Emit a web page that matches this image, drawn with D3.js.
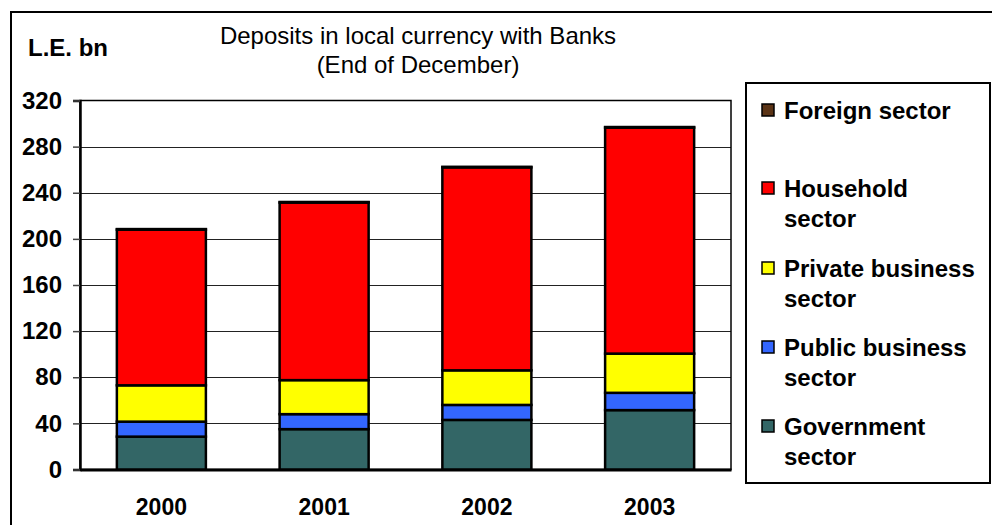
<!DOCTYPE html>
<html>
<head>
<meta charset="utf-8">
<script src="https://cdn.jsdelivr.net/npm/d3@7"></script>
<style>
  html, body { margin: 0; padding: 0; background: #fff; }
  svg { display: block; font-family: "Liberation Sans", Arial, sans-serif; }
</style>
</head>
<body>
<svg id="chart" width="992" height="525"></svg>
<script>
// Deposits in local currency with banks, end of December (L.E. bn)
const years = ["2000", "2001", "2002", "2003"];
const government = [28.5, 35, 43, 51.5];
const publicBusiness = [13, 13, 13, 15];
const privateBusiness = [31.5, 29.5, 30, 34];
const household = [135, 154, 176, 196];
const foreign = [0.5, 0.5, 0.5, 0.5];
const yTicks = [0, 40, 80, 120, 160, 200, 240, 280, 320];

// Stack order from the bottom up
const series = [
  { key: "government", label: ["Government", "sector"], color: "#336666", values: government },
  { key: "public", label: ["Public business", "sector"], color: "#3366FF", values: publicBusiness },
  { key: "private", label: ["Private business", "sector"], color: "#FFFF00", values: privateBusiness },
  { key: "household", label: ["Household", "sector"], color: "#FF0000", values: household },
  { key: "foreign", label: ["Foreign sector"], color: "#5A3315", values: foreign }
];

const rows = years.map((y, i) => {
  const r = { year: y };
  series.forEach(s => { r[s.key] = s.values[i]; });
  return r;
});

const svg = d3.select("#chart");

// Outer frame
svg.append("rect")
  .attr("x", 11).attr("y", 12).attr("width", 1000).attr("height", 600)
  .attr("fill", "#fff").attr("stroke", "#000").attr("stroke-width", 2);

const plot = { left: 80, top: 100.5, right: 731, bottom: 469.5 };

const x = d3.scaleBand().domain(years).range([plot.left, plot.right]).paddingInner(0.453).paddingOuter(0.2265);
const y = d3.scaleLinear().domain([0, 320]).range([plot.bottom, plot.top]);

// Gridlines
svg.append("g")
  .selectAll("line")
  .data(yTicks.filter(t => t > 0 && t < 320))
  .join("line")
  .attr("x1", plot.left).attr("x2", plot.right)
  .attr("y1", d => Math.round(y(d)) + 0.5).attr("y2", d => Math.round(y(d)) + 0.5)
  .attr("stroke", "#222").attr("stroke-width", 1);

// Plot frame
svg.append("rect")
  .attr("x", plot.left).attr("y", plot.top)
  .attr("width", plot.right - plot.left).attr("height", plot.bottom - plot.top)
  .attr("fill", "none").attr("stroke", "#000").attr("stroke-width", 1.5);

// Y axis
const yAxis = d3.axisLeft(y).tickValues(yTicks).tickSize(7).tickPadding(11).tickFormat(d3.format("d"));
const gy = svg.append("g").attr("transform", `translate(${plot.left},0)`).call(yAxis);
gy.select(".domain").attr("stroke", "#000").attr("stroke-width", 2.5);
gy.selectAll(".tick line").attr("stroke", "#444").attr("stroke-width", 1.5);
gy.selectAll(".tick text")
  .attr("font-family", "Liberation Sans, Arial, sans-serif")
  .attr("font-size", 24).attr("font-weight", "bold").attr("fill", "#000");

// X axis (baseline + labels)
const xAxis = d3.axisBottom(x).tickSize(0).tickPadding(29);
const gx = svg.append("g").attr("transform", `translate(0,${plot.bottom})`).call(xAxis);
gx.select(".domain").attr("stroke", "#000").attr("stroke-width", 3);
gx.selectAll(".tick text")
  .attr("font-family", "Liberation Sans, Arial, sans-serif")
  .attr("font-size", 23).attr("font-weight", "bold").attr("fill", "#000");

// Stacked bars
const stack = d3.stack().keys(series.map(s => s.key));
const stacked = stack(rows);

const layers = svg.append("g")
  .selectAll("g")
  .data(stacked)
  .join("g")
  .attr("fill", (d, i) => series[i].color);

layers.selectAll("rect")
  .data(d => d)
  .join("rect")
  .attr("x", d => x(d.data.year))
  .attr("width", x.bandwidth())
  .attr("y", d => y(d[1]))
  .attr("height", d => y(d[0]) - y(d[1]))
  .attr("stroke", "#000")
  .attr("stroke-width", 2.5);

// Axis unit and chart title
svg.append("text")
  .attr("x", 28).attr("y", 56)
  .attr("font-size", 24).attr("font-weight", "bold")
  .text("L.E. bn");

svg.append("text")
  .attr("x", 418).attr("y", 44)
  .attr("text-anchor", "middle").attr("font-size", 24)
  .text("Deposits in local currency with Banks");
svg.append("text")
  .attr("x", 418).attr("y", 73)
  .attr("text-anchor", "middle").attr("font-size", 24)
  .text("(End of December)");

// Legend (top to bottom: reverse stack order)
const legend = svg.append("g");
legend.append("rect")
  .attr("x", 746).attr("y", 83).attr("width", 244).attr("height", 400)
  .attr("fill", "#fff").attr("stroke", "#000").attr("stroke-width", 2);

const legendItems = series.slice().reverse();
const itemCenters = [110, 188, 268, 347, 426];
legendItems.forEach((s, i) => {
  const cy = itemCenters[i];
  legend.append("rect")
    .attr("x", 762).attr("y", cy - 6).attr("width", 12).attr("height", 12)
    .attr("fill", s.color).attr("stroke", "#000").attr("stroke-width", 1.5);
  s.label.forEach((line, j) => {
    legend.append("text")
      .attr("x", 784).attr("y", cy + 9 + j * 29.5)
      .attr("font-size", 24).attr("font-weight", "bold")
      .text(line);
  });
});
</script>
</body>
</html>
